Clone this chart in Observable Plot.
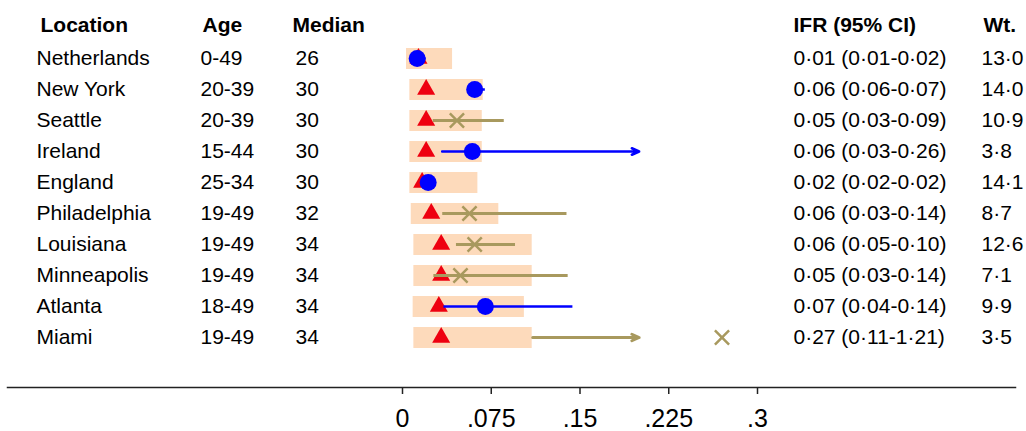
<!DOCTYPE html>
<html><head><meta charset="utf-8">
<script src="https://cdn.jsdelivr.net/npm/d3@7"></script>
<script src="https://cdn.jsdelivr.net/npm/@observablehq/plot@0.6"></script>
<style>
body{margin:0;background:#fff;}
#chart{position:relative;width:1026px;height:431px;overflow:hidden;}
</style>
</head><body><div id="chart"></div>
<script>
// ---- data ----
const locations = ["Netherlands","New York","Seattle","Ireland","England","Philadelphia","Louisiana","Minneapolis","Atlanta","Miami"];
const ages = ["0-49","20-39","20-39","15-44","25-34","19-49","19-49","19-49","18-49","19-49"];
const medians = ["26","30","30","30","30","32","34","34","34","34"];
const ifrLabels = ["0·01 (0·01-0·02)","0·06 (0·06-0·07)","0·05 (0·03-0·09)","0·06 (0·03-0·26)","0·02 (0·02-0·02)","0·06 (0·03-0·14)","0·06 (0·05-0·10)","0·05 (0·03-0·14)","0·07 (0·04-0·14)","0·27 (0·11-1·21)"];
const weights = ["13·0","14·0","10·9","3·8","14·1","8·7","12·6","7·1","9·9","3·5"];
const estimate = [0.0124,0.061,0.046,0.059,0.0217,0.0566,0.061,0.049,0.070,0.270];
const ciLo = [0.01,0.06,0.026,0.0335,0.02,0.034,0.0456,0.0265,0.035,0.11];
const ciHi = [0.02,0.07,0.086,0.26,0.02,0.139,0.0955,0.14,0.144,1.21];
const predicted = [0.0135,0.020,0.020,0.020,0.0166,0.0243,0.0327,0.0327,0.0307,0.0327];
const bandLo = [0.0034,0.0062,0.0062,0.0062,0.0062,0.0074,0.0096,0.0096,0.009,0.0096];
const bandHi = [0.0423,0.0682,0.0674,0.0674,0.0637,0.0814,0.1096,0.1096,0.103,0.1096];
const markerType = ["circle","circle","x","circle","circle","x","x","x","circle","x"];
const xTicks = [0,0.075,0.15,0.225,0.3];
const ciClip = 0.2;

const rows = locations.map((loc,i)=>({
  loc, age:ages[i], median:medians[i], ifr:ifrLabels[i], wt:weights[i],
  est:estimate[i], lo:ciLo[i], hi:ciHi[i], pred:predicted[i],
  bLo:bandLo[i], bHi:bandHi[i], type:markerType[i],
  color: markerType[i]==="circle" ? "#0000ff" : "#a8995e"
}));
const lines = rows.filter(d=>d.hi<=ciClip);
const arrows = rows.filter(d=>d.hi>ciClip);

const FONT = "'Liberation Sans', Arial, Helvetica, sans-serif";
const ML = 7;
const header = (t, x) => Plot.text([t], {text:d=>d, frameAnchor:"top-left", dx:x-ML, dy:25, textAnchor:"start", lineAnchor:"middle", fontSize:21, fontWeight:"bold", fill:"#000"});
const col = (field, x) => Plot.text(rows, {y:"loc", text:field, frameAnchor:"left", dx:x-ML, textAnchor:"start", lineAnchor:"middle", fontSize:21, fill:"#000"});

const plot = Plot.plot({
  width:1026, height:431,
  marginLeft:ML, marginRight:11, marginTop:0, marginBottom:44,
  style:{fontFamily:FONT, background:"#fff", color:"#000"},
  x:{domain:[0,0.3], range:[402,757]},
  y:{type:"point", domain:locations, range:[55.7,339.3], padding:0, axis:null},
  marks:[
    Plot.ruleY(rows, {y:"loc", x1:"bLo", x2:"bHi", stroke:"#fddabb", strokeWidth:21, strokeLinecap:"butt"}),
    Plot.dot(rows, {x:"pred", y:"loc", symbol:"triangle", r:6.7, fill:"#ee0010", stroke:"none"}),
    Plot.ruleY(lines, {y:"loc", x1:"lo", x2:"hi", stroke:"color", strokeWidth:d=>d.type==="circle"?2.5:3}),
    Plot.arrow(arrows, {x1:"lo", x2:()=>ciClip, y1:"loc", y2:"loc", stroke:"color", strokeWidth:d=>d.type==="circle"?2.5:3, headLength:12, headAngle:48}),
    Plot.dot(rows.filter(d=>d.type==="circle"), {x:"est", y:"loc", r:8.5, fill:"#0000ff", stroke:"none"}),
    Plot.dot(rows.filter(d=>d.type==="x"), {x:"est", y:"loc", symbol:"times", r:6.5, stroke:"#a8995e", strokeWidth:2.5}),
    header("Location",40), header("Age",202), header("Median",292), header("IFR (95% CI)",793), header("Wt.",983),
    col("loc",36), col("age",200), col("median",295), col("ifr",793), col("wt",981),
    Plot.frame({anchor:"bottom", stroke:"#222", strokeWidth:1.5}),
    Plot.axisX({ticks:xTicks, tickFormat:d=>d===0?"0":String(d).replace(/^0/,""), tickSize:7, tickPadding:15, fontSize:25, label:null, stroke:"#222", strokeWidth:1.5, fill:"#000"})
  ]
});
document.getElementById("chart").appendChild(plot);
</script>
</body></html>
